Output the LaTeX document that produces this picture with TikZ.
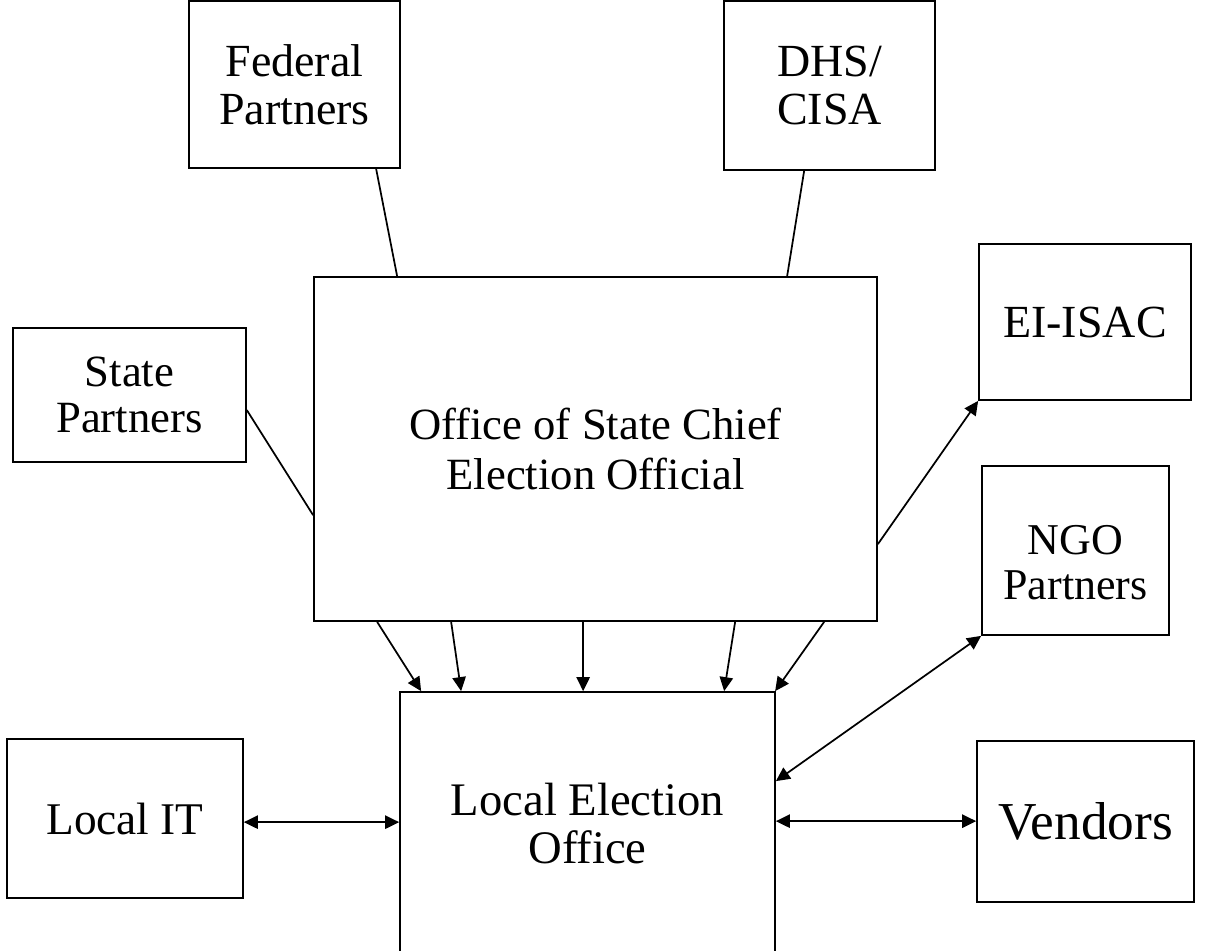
\documentclass[tikz,border=0pt]{standalone}
\usepackage{fontspec}
\setmainfont{Liberation Serif}
\usetikzlibrary{arrows.meta}

\begin{document}
\begin{tikzpicture}[x=0.75pt, y=-0.75pt, line width=1.3pt,
    box/.style={draw, rectangle, inner sep=0pt, align=center},
    >={Triangle[length=10.5pt,width=10pt]}]
    % 画布范围
    \clip (0,0) rectangle (1206,950);

    % 画各个方框
    \node[box, minimum width=158.25pt, minimum height=125.25pt, font=\fontsize{34.5}{36}\selectfont] (fed) at (294.5,84.5) {Federal\\Partners};
    \node[box, minimum width=158.25pt, minimum height=126.75pt, font=\fontsize{34.5}{36}\selectfont] (dhs) at (829.5,85.5) {DHS/\\CISA};
    \node[box, minimum width=159pt, minimum height=117pt, font=\fontsize{34.5}{36}\selectfont] (eiisac) at (1085,322) {EI-ISAC};
    \node[box, minimum width=174.75pt, minimum height=100.5pt, font=\fontsize{33.5}{34}\selectfont] (state) at (129.5,395) {State\\Partners};
    \node[box, minimum width=422.25pt, minimum height=258pt, font=\fontsize{33.5}{37.5}\selectfont] (office) at (595.5,449) {Office of State Chief\\Election Official};
    \node[box, minimum width=140.25pt, minimum height=126.75pt, font=\fontsize{33}{34}\selectfont] (ngo) at (1075.5,550.5) {\rule{0pt}{40pt}NGO\\Partners};
    \node[box, minimum width=281.25pt, minimum height=197.25pt, font=\fontsize{35}{36}\selectfont] (local) at (587.5,823.5) {Local Election\\Office};
    \node[box, minimum width=177pt, minimum height=119.25pt, font=\fontsize{34}{36}\selectfont] (localit) at (125,818.5) {Local IT};
    \node[box, minimum width=162.75pt, minimum height=120.75pt, font=\fontsize{40}{42}\selectfont] (vendors) at (1085.5,821.5) {Vendors};

    % 上方和左侧的连线
    \draw ([shift={(188,0)}]fed.south west) -- ([shift={(84,0)}]office.north west);
    \draw ([shift={(81,0)}]dhs.south west) -- ([shift={(474,0)}]office.north west);
    \draw ([shift={(0,83)}]state.north east) -- ([shift={(0,239)}]office.north west);

    % 右侧的箭头
    \draw[->] ([shift={(0,268)}]office.north east) -- (eiisac.south west);
    \draw[<->] ([shift={(0,90)}]local.north east) -- (ngo.south west);

    % 州办公室到地方办公室
    \foreach \a/\b in {64/22, 138/62, 270/184, 422/325, 511/376}
        \draw[->] ([shift={(\a,0)}]office.south west) -- ([shift={(\b,0)}]local.north west);

    % 左右两边的双向箭头
    \draw[<->] ([shift={(0,84)}]localit.north east) -- ([shift={(0,131)}]local.north west);
    \draw[<->] ([shift={(0,130)}]local.north east) -- ([shift={(0,81)}]vendors.north west);
\end{tikzpicture}
\end{document}
